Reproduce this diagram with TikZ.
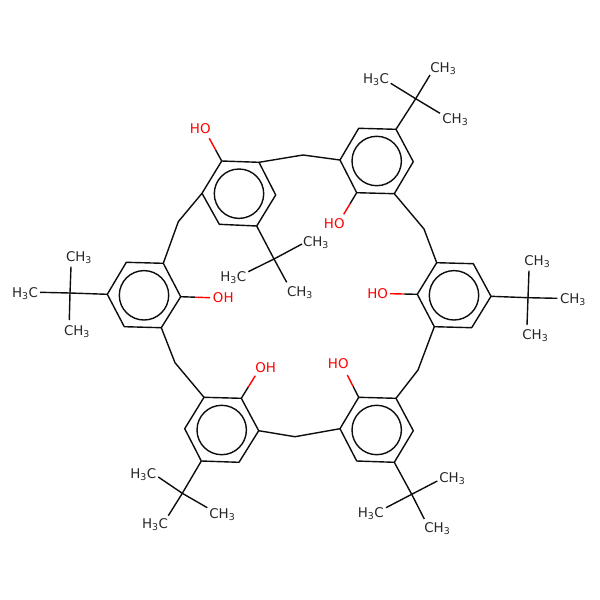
\documentclass[tikz,border=0pt]{standalone}
\usepackage{fontspec}
\setmainfont{DejaVu Sans}
\usetikzlibrary{calc}
\newcommand{\methyl}{CH\textsubscript{3}}
\newcommand{\methylrev}{H\textsubscript{3}C}
\tikzset{
	bond/.style={line width=1.4pt, line join=round, color=black!95},
	obond/.style={line width=1.4pt, color=red},
	atomlabel/.style={inner sep=0pt, anchor=base, yshift=-4.7pt, font=\fontsize{13.4}{13.4}\selectfont, color=black!85},
	oxygen/.style={atomlabel, color=red}
}
\begin{document}
\begin{tikzpicture}[x=1pt, y=-1pt]
		%%%%% START %%%%%
		\useasboundingbox (0, 0) rectangle (600, 600);
		
		% top ring
		\coordinate (top1) at (221.7, 161);
		\coordinate (top2) at (259, 162.3);
		\coordinate (top3) at (275.7, 195);
		\coordinate (top4) at (256.7, 226);
		\coordinate (top5) at (219.3, 224.3);
		\coordinate (top6) at (202, 193.3);
		\draw[bond] (top1) -- (top2) -- (top3) -- (top4) -- (top5) -- (top6) -- cycle;
		\draw[bond] (239, 193.7) circle (24.7pt);
		
		% left ring
		\coordinate (lft1) at (163.3, 263.3);
		\coordinate (lft2) at (180.7, 296.7);
		\coordinate (lft3) at (161.3, 327.7);
		\coordinate (lft4) at (124.3, 326.7);
		\coordinate (lft5) at (107.3, 294.3);
		\coordinate (lft6) at (126.3, 262.3);
		\draw[bond] (lft1) -- (lft2) -- (lft3) -- (lft4) -- (lft5) -- (lft6) -- cycle;
		\draw[bond] (144, 295.3) circle (24.7pt);
		
		% upper right ring
		\coordinate (upr1) at (340, 160);
		\coordinate (upr2) at (356.7, 192.7);
		\coordinate (upr3) at (394.3, 193.7);
		\coordinate (upr4) at (413.3, 161.7);
		\coordinate (upr5) at (396, 129.3);
		\coordinate (upr6) at (358.7, 128.3);
		\draw[bond] (upr1) -- (upr2) -- (upr3) -- (upr4) -- (upr5) -- (upr6) -- cycle;
		\draw[bond] (376.7, 161) circle (24.7pt);
		
		% right ring
		\coordinate (rgt1) at (436.7, 262.7);
		\coordinate (rgt2) at (473.3, 263.7);
		\coordinate (rgt3) at (491, 296.3);
		\coordinate (rgt4) at (471.7, 327.7);
		\coordinate (rgt5) at (434.3, 326.7);
		\coordinate (rgt6) at (417.3, 294.3);
		\draw[bond] (rgt1) -- (rgt2) -- (rgt3) -- (rgt4) -- (rgt5) -- (rgt6) -- cycle;
		\draw[bond] (454, 295.3) circle (24.7pt);
		
		% lower right ring
		\coordinate (lwr1) at (396, 398.3);
		\coordinate (lwr2) at (413.3, 430.7);
		\coordinate (lwr3) at (394.3, 462.3);
		\coordinate (lwr4) at (356.7, 461);
		\coordinate (lwr5) at (340, 428.7);
		\coordinate (lwr6) at (358.7, 397.3);
		\draw[bond] (lwr1) -- (lwr2) -- (lwr3) -- (lwr4) -- (lwr5) -- (lwr6) -- cycle;
		\draw[bond] (376.7, 430) circle (24.7pt);
		
		% lower left ring
		\coordinate (lwl1) at (204, 397.3);
		\coordinate (lwl2) at (241.3, 398.3);
		\coordinate (lwl3) at (258.7, 430.7);
		\coordinate (lwl4) at (239, 462.3);
		\coordinate (lwl5) at (201.3, 461);
		\coordinate (lwl6) at (184.7, 428.7);
		\draw[bond] (lwl1) -- (lwl2) -- (lwl3) -- (lwl4) -- (lwl5) -- (lwl6) -- cycle;
		\draw[bond] (221.7, 430) circle (24.7pt);
		
		% bridges
		\coordinate (brga) at (178.3, 221.7);
		\coordinate (brgb) at (303, 155);
		\coordinate (brgc) at (424, 229);
		\coordinate (brgd) at (418, 370);
		\coordinate (brge) at (295, 436.7);
		\coordinate (brgf) at (175, 362.7);
		\draw[bond] (top6) -- (brga) -- (lft1);
		\draw[bond] (top2) -- (brgb) -- (upr1);
		\draw[bond] (upr3) -- (brgc) -- (rgt1);
		\draw[bond] (rgt5) -- (brgd) -- (lwr1);
		\draw[bond] (lwr5) -- (brge) -- (lwl3);
		\draw[bond] (lwl1) -- (brgf) -- (lft3);
		
		% hydroxyl groups
		\coordinate (oha) at (209.3, 138.3);
		\coordinate (ohb) at (210, 297.7);
		\coordinate (ohc) at (343.7, 214.3);
		\coordinate (ohd) at (390, 293.7);
		\coordinate (ohe) at (347.3, 375);
		\coordinate (ohf) at (255.3, 375.7);
		\draw[bond] (top1) -- ($(top1)!0.5!(oha)$);
		\draw[obond] ($(top1)!0.5!(oha)$) -- (oha);
		\draw[bond] (lft2) -- ($(lft2)!0.5!(ohb)$);
		\draw[obond] ($(lft2)!0.5!(ohb)$) -- (ohb);
		\draw[bond] (upr2) -- ($(upr2)!0.5!(ohc)$);
		\draw[obond] ($(upr2)!0.5!(ohc)$) -- (ohc);
		\draw[bond] (rgt6) -- ($(rgt6)!0.5!(ohd)$);
		\draw[obond] ($(rgt6)!0.5!(ohd)$) -- (ohd);
		\draw[bond] (lwr6) -- ($(lwr6)!0.5!(ohe)$);
		\draw[obond] ($(lwr6)!0.5!(ohe)$) -- (ohe);
		\draw[bond] (lwl2) -- ($(lwl2)!0.5!(ohf)$);
		\draw[obond] ($(lwl2)!0.5!(ohf)$) -- (ohf);
		\node[oxygen] (hoa) at (200.3, 128.3) {HO};
		\node[oxygen] (hob) at (223.3, 297.7) {OH};
		\node[oxygen] (hoc) at (334.3, 224) {HO};
		\node[oxygen] (hod) at (377.7, 293.3) {HO};
		\node[oxygen] (hoe) at (338.3, 364) {HO};
		\node[oxygen] (hof) at (265.7, 367.3) {OH};
		
		% tert-butyl on top ring
		\coordinate (buta) at (274, 259);
		\coordinate (buta1) at (248.3, 271.7);
		\coordinate (buta2) at (286.7, 282.3);
		\coordinate (buta3) at (302, 244);
		\draw[bond] (top4) -- (buta);
		\draw[bond] (buta) -- (buta1);
		\draw[bond] (buta) -- (buta2);
		\draw[bond] (buta) -- (buta3);
		\node[atomlabel] (mea1) at (233.3, 276.7) {\methylrev};
		\node[atomlabel] (mea2) at (300, 292) {\methyl};
		\node[atomlabel] (mea3) at (316, 242) {\methyl};
		
		% tert-butyl on left ring
		\coordinate (butb) at (70, 293);
		\coordinate (butb1) at (71, 266.7);
		\coordinate (butb2) at (40, 292.3);
		\coordinate (butb3) at (69.3, 320);
		\draw[bond] (lft5) -- (butb);
		\draw[bond] (butb) -- (butb1);
		\draw[bond] (butb) -- (butb2);
		\draw[bond] (butb) -- (butb3);
		\node[atomlabel] (meb1) at (79, 256.7) {\methyl};
		\node[atomlabel] (meb2) at (25, 292.7) {\methylrev};
		\node[atomlabel] (meb3) at (77, 330.7) {\methyl};
		
		% tert-butyl on upper right ring
		\coordinate (butc) at (415.7, 98.7);
		\coordinate (butc1) at (390.7, 83.3);
		\coordinate (butc2) at (430, 75);
		\coordinate (butc3) at (440, 113.3);
		\draw[bond] (upr5) -- (butc);
		\draw[bond] (butc) -- (butc1);
		\draw[bond] (butc) -- (butc2);
		\draw[bond] (butc) -- (butc3);
		\node[atomlabel] (mec1) at (376, 79) {\methylrev};
		\node[atomlabel] (mec2) at (443.3, 67.3) {\methyl};
		\node[atomlabel] (mec3) at (455.3, 118.3) {\methyl};
		
		% tert-butyl on right ring
		\coordinate (butd) at (528, 297.7);
		\coordinate (butd1) at (529, 270.7);
		\coordinate (butd2) at (557.3, 298.3);
		\coordinate (butd3) at (527, 325);
		\draw[bond] (rgt3) -- (butd);
		\draw[bond] (butd) -- (butd1);
		\draw[bond] (butd) -- (butd2);
		\draw[bond] (butd) -- (butd3);
		\node[atomlabel] (med1) at (537.3, 260.7) {\methyl};
		\node[atomlabel] (med2) at (573, 298.3) {\methyl};
		\node[atomlabel] (med3) at (535.3, 335) {\methyl};
		
		% tert-butyl on lower right ring
		\coordinate (bute) at (411.7, 494.3);
		\coordinate (bute1) at (437.3, 481);
		\coordinate (bute2) at (386, 507.7);
		\coordinate (bute3) at (424.3, 519);
		\draw[bond] (lwr3) -- (bute);
		\draw[bond] (bute) -- (bute1);
		\draw[bond] (bute) -- (bute2);
		\draw[bond] (bute) -- (bute3);
		\node[atomlabel] (mee1) at (452.3, 477.3) {\methyl};
		\node[atomlabel] (mee2) at (370.7, 512.7) {\methylrev};
		\node[atomlabel] (mee3) at (437.3, 527.3) {\methyl};
		
		% tert-butyl on lower left ring
		\coordinate (butf) at (182.3, 493.3);
		\coordinate (butf1) at (158.3, 477);
		\coordinate (butf2) at (207.3, 507.7);
		\coordinate (butf3) at (168.3, 515.7);
		\draw[bond] (lwl5) -- (butf);
		\draw[bond] (butf) -- (butf1);
		\draw[bond] (butf) -- (butf2);
		\draw[bond] (butf) -- (butf3);
		\node[atomlabel] (mef1) at (143.3, 473.3) {\methylrev};
		\node[atomlabel] (mef2) at (222.3, 513.3) {\methyl};
		\node[atomlabel] (mef3) at (155, 523.3) {\methylrev};
		
		%%%%% END %%%%%
	\end{tikzpicture}
\end{document}
